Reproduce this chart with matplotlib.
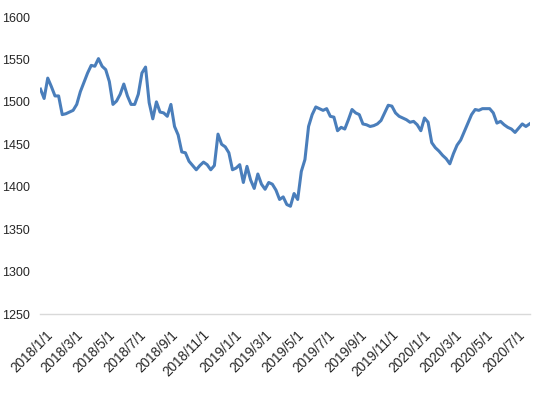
import matplotlib
matplotlib.use('Agg')
import matplotlib.pyplot as plt
import matplotlib.transforms as mtransforms
import pandas as pd

# weekly series
start = '2018-01-01'
values = [1515, 1504, 1528, 1518, 1507, 1507, 1485, 1486, 1488, 1490,
          1497, 1512, 1523, 1534, 1543, 1542, 1551, 1542, 1538, 1524,
          1497, 1501, 1509, 1521, 1507, 1497, 1497, 1509, 1534, 1541,
          1499, 1480, 1500, 1488, 1487, 1483, 1497, 1471, 1461, 1441,
          1440, 1430, 1425, 1420, 1425, 1429, 1426, 1420, 1425, 1462,
          1450, 1447, 1440, 1420, 1422, 1426, 1405, 1424, 1408, 1398,
          1415, 1403, 1397, 1405, 1403, 1396, 1385, 1388, 1379, 1377,
          1392, 1385, 1418, 1432, 1471, 1485, 1494, 1492, 1490, 1492,
          1483, 1482, 1466, 1470, 1468, 1479, 1491, 1487, 1485, 1474,
          1473, 1471, 1472, 1474, 1478, 1487, 1496, 1495, 1487, 1483,
          1481, 1479, 1476, 1477, 1473, 1466, 1481, 1476, 1452, 1446,
          1442, 1437, 1433, 1427, 1439, 1449, 1455, 1465, 1475, 1485,
          1491, 1490, 1492, 1492, 1492, 1487, 1475, 1477, 1473, 1470,
          1468, 1464, 1469, 1474, 1471, 1474]
dates = pd.date_range(start, periods=len(values), freq='7D')

tick_dates = pd.date_range('2018-01-01', '2020-07-01', freq='2MS')
tick_labels = [f'{d.year}/{d.month}/1' for d in tick_dates]
y_ticks = [1250, 1300, 1350, 1400, 1450, 1500, 1550, 1600]

plt.rcParams['font.family'] = ['Liberation Sans', 'DejaVu Sans']

f = plt.figure(figsize=(5.5, 3.93), dpi=100)
ax = f.add_axes([0.0727, 0.201, 0.891, 0.7557])

ax.plot(dates, values, color='#4a7ebb', linewidth=2.2)

ax.set_ylim(1250, 1600)
ax.set_yticks(y_ticks)
ax.set_xlim(pd.Timestamp('2017-12-31'), pd.Timestamp('2020-08-04'))
ax.set_xticks(tick_dates)
ax.set_xticklabels(tick_labels, rotation=45, ha='right', va='top',
                   rotation_mode='anchor', fontsize=9.8, color='#262626')
ax.tick_params(axis='y', length=0, pad=7, labelsize=9, labelcolor='#262626')
ax.tick_params(axis='x', length=0, pad=10)

# shift x labels a little to the right, like the original
shift = mtransforms.ScaledTranslation(5 / 100, 0, f.dpi_scale_trans)
for lab in ax.get_xticklabels():
    lab.set_transform(lab.get_transform() + shift)

for s in ['top', 'right', 'left']:
    ax.spines[s].set_visible(False)
ax.spines['bottom'].set_color('#d9d9d9')
ax.spines['bottom'].set_linewidth(1)

f.savefig('out.png', dpi=100)
